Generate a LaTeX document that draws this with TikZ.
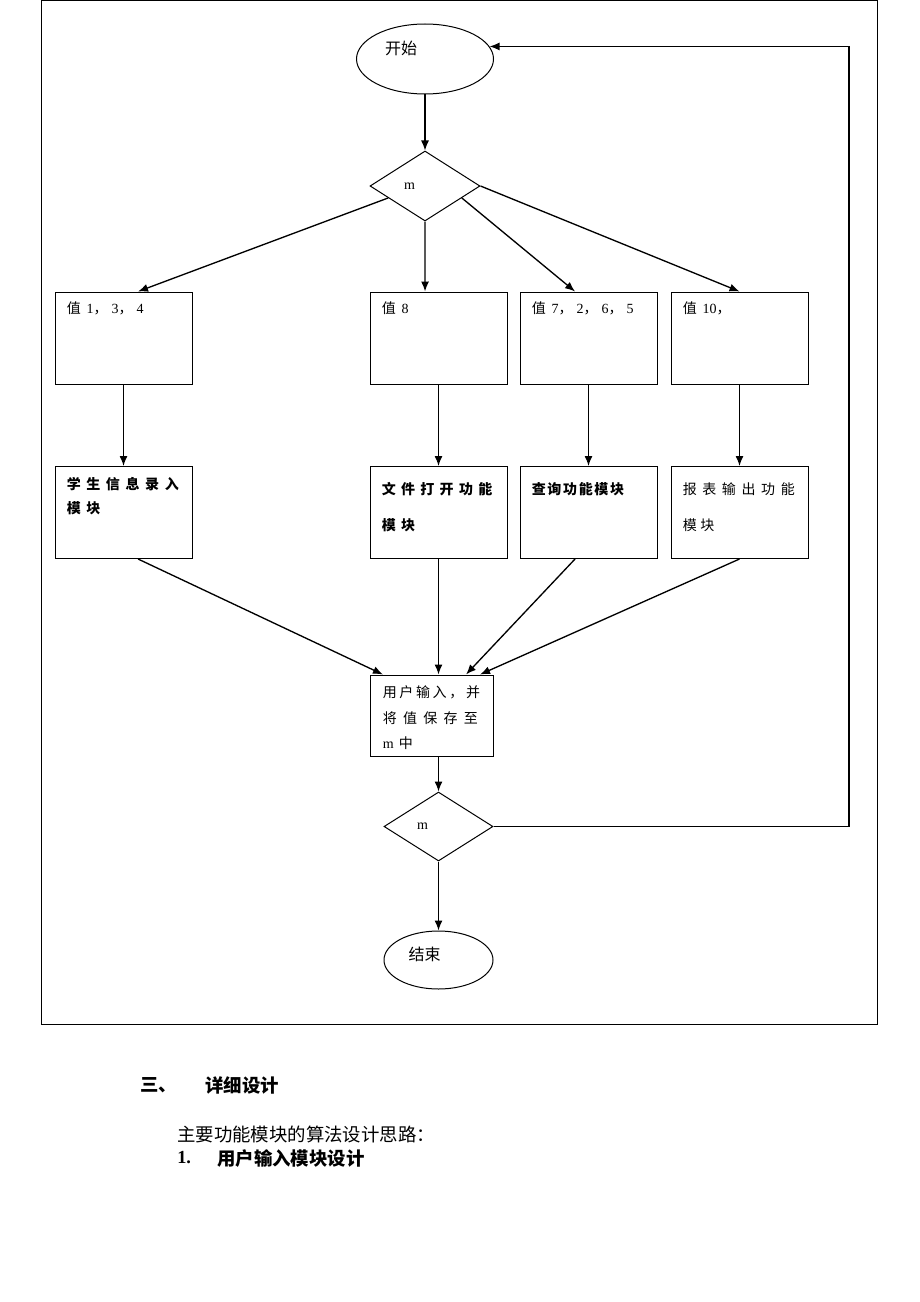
\documentclass[tikz,border=0pt]{standalone}
\usepackage{fontspec}
\setmainfont{Liberation Serif}
\newfontfamily\cjk{Noto Sans CJK SC}
\newfontfamily\tms{Liberation Serif}
\usetikzlibrary{shapes.geometric,arrows.meta}
\newcommand{\lsp}[2]{{\addfontfeature{LetterSpace=#1}#2}}
\newcommand{\zcomma}{，\hspace{3pt}}

\begin{document}
\begin{tikzpicture}[x=0.75pt,y=-0.75pt]
    % Define styles
    \tikzstyle{startstop}=[ellipse,draw,line width=0.75pt,inner sep=0pt,align=left,font={\cjk\fontsize{12pt}{14pt}\selectfont}]
    \tikzstyle{decision}=[diamond,draw,line width=0.75pt,inner sep=0pt,align=left,font={\tms\fontsize{10.5pt}{13pt}\selectfont}]
    \tikzstyle{module}=[rectangle,draw,line width=0.75pt,minimum width=102.75pt,minimum height=69pt,inner sep=0pt]
    \tikzstyle{boxtxt}=[anchor=north west,inner xsep=9pt,inner ysep=7.5pt,align=left,font={\cjk\fontsize{10.5pt}{18pt}\selectfont}]
    \tikzstyle{boldtxt}=[boxtxt,font={\cjk\bfseries\fontsize{10.5pt}{18pt}\selectfont}]
    \tikzstyle{flow}=[line width=1pt,->,>={Latex[length=7.5pt,width=6pt]}]
    \tikzstyle{para}=[anchor=west,inner sep=0pt,font={\cjk\fontsize{13.8pt}{16pt}\selectfont}]

    \useasboundingbox (0,0) rectangle (920,1302);
    \draw[line width=0.75pt] (41,1) rectangle (877,1024);

    % Draw the nodes
    \node[startstop,minimum width=102.75pt,minimum height=52.5pt,text width=60pt,text height=8pt,text depth=14pt] (start) at (425,59) {开始};
    \node[decision,minimum width=82.5pt,minimum height=52.5pt,text width=31.5pt] (m1) at (425,186) {m};

    \node[module,label={[boxtxt]north west:值\hspace{2pt} {\tms 1}\zcomma{\tms 3}\zcomma{\tms 4}}] (v134) at (123.5,338) {};
    \node[module,label={[boxtxt]north west:值\hspace{2pt} {\tms 8}}] (v8) at (438.5,338) {};
    \node[module,label={[boxtxt]north west:值\hspace{2pt} {\tms 7}\zcomma{\tms 2}\zcomma{\tms 6}\zcomma{\tms 5}}] (v7265) at (588.5,338) {};
    \node[module,label={[boxtxt]north west:值\hspace{2pt} {\tms 10}，}] (v10) at (739.5,338) {};

    \node[module,label={[boldtxt,inner ysep=8.5pt]north west:\lsp{40}{学生信息录入}\\\lsp{40}{模块}}] (stu) at (123.5,512.5) {};
    \node[module,label={[boldtxt,inner ysep=12pt]north west:\lsp{38}{文件打开功能}\\[9pt]\lsp{38}{模块}}] (file) at (438.5,512.5) {};
    \node[module,label={[boldtxt,inner ysep=12pt]north west:\lsp{12}{查询功能模块}}] (query) at (588.5,512.5) {};
    \node[module,label={[boxtxt,inner ysep=12pt]north west:\lsp{40}{报表输出功能}\\[9pt]\lsp{25}{模块}}] (report) at (739.5,512.5) {};

    \node[module,minimum width=92.25pt,minimum height=60.75pt,label={[boxtxt,inner xsep=9.75pt,inner ysep=8.5pt,font={\cjk\fontsize{10.5pt}{19pt}\selectfont}]north west:\lsp{19}{用户输入，并}\\\lsp{45}{将值保存至}\\{\tms m}\hspace{4pt}中}] (input) at (431.5,715.5) {};
    \node[decision,minimum width=81.75pt,minimum height=51.75pt,text width=32pt] (m2) at (438.5,826.5) {m};
    \node[startstop,minimum width=81.75pt,minimum height=43.5pt,text width=45pt,text height=8pt,text depth=8pt] (stop) at (438.5,960) {结束};
    \coordinate (back) at (849,826.5);

    % Draw the edges
    \draw[flow] (start) -- (m1);
    \draw[flow] (m1.198) -- ([xshift=10.9pt]v134.north);
    \draw[flow] (m1.south) -- ([xshift=-10.1pt]v8.north);
    \draw[flow] (m1.-18) -- ([xshift=-10.1pt]v7265.north);
    \draw[flow] (m1.east) -- (v10.north);
    \draw[flow] (v134) -- (stu);
    \draw[flow] (v8) -- (file);
    \draw[flow] (v7265) -- (query);
    \draw[flow] (v10) -- (report);
    \draw[flow] ([xshift=10.9pt]stu.south) -- ([xshift=-36.4pt]input.north);
    \draw[flow] (file.south) -- (file.south |- input.north);
    \draw[flow] ([xshift=-10.1pt]query.south) -- ([xshift=25.9pt]input.north);
    \draw[flow] (report.south) -- ([xshift=36.4pt]input.north);
    \draw[flow] (m2.north |- input.south) -- (m2.north);
    \draw[flow] (m2) -- (stop);
    \draw[flow] (m2.east) -- (back) |- (start.11);

    % Text below the chart
    \node[para,font={\cjk\bfseries\fontsize{13.8pt}{16pt}\selectfont}] (sec) at (140,1085) {三、};
    \node[para,font={\cjk\bfseries\fontsize{13.8pt}{16pt}\selectfont}] (sectitle) at (205,1085) {详细设计};
    \node[para] (intro) at (177,1134) {主要功能模块的算法设计思路：};
    \node[para,font={\tms\bfseries\fontsize{13.8pt}{16pt}\selectfont}] (num) at (177,1158) {1.};
    \node[para,font={\cjk\bfseries\fontsize{13.8pt}{16pt}\selectfont}] (subtitle) at (217,1158) {用户输入模块设计};
\end{tikzpicture}
\end{document}
